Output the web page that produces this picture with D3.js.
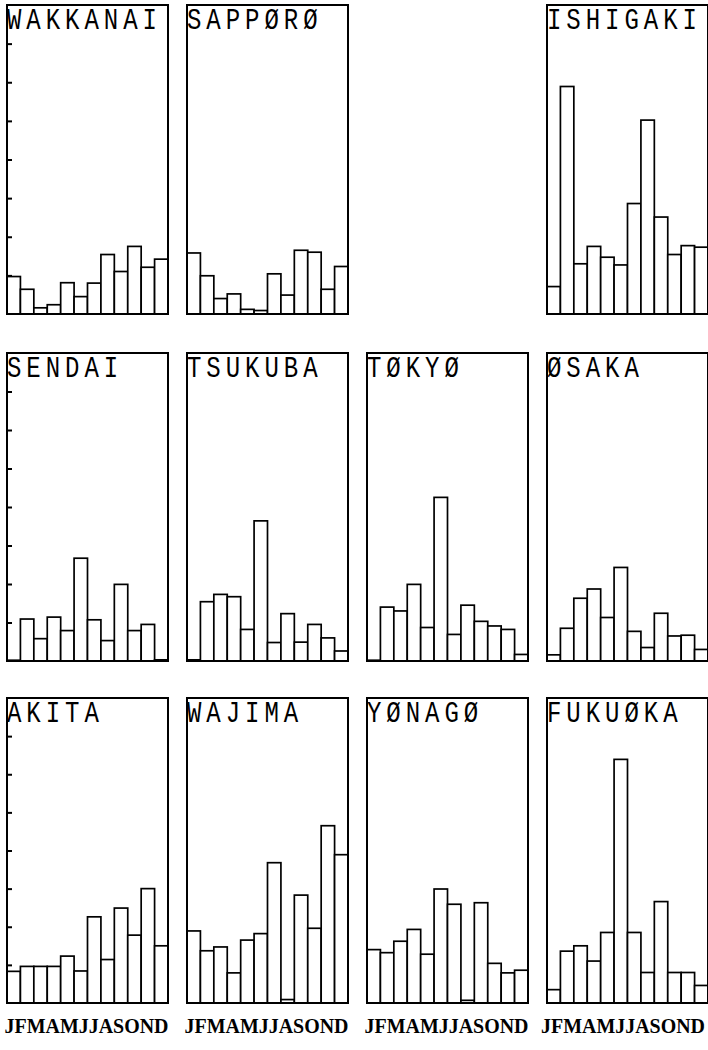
<!DOCTYPE html>
<html>
<head lang="en">
    <meta charset="UTF-8">
    <title></title>
    <script src="https://cdn.jsdelivr.net/npm/d3@7/dist/d3.min.js"></script>
    <style>
        body{margin:0;background:#fff;}
    </style>
</head>
<body>
<div id="tu1"></div>
<script>

    var months=['J','F','M','A','M','J','J','A','S','O','N','D'];
    var monthLabel='JFMAMJJASOND';
    var stationNames=['WAKKANAI','SAPPØRØ','ISHIGAKI',
                      'SENDAI','TSUKUBA','TØKYØ','ØSAKA',
                      'AKITA','WAJIMA','YØNAGØ','FUKUØKA'];
    // values, one per month
    var wakkanai=[0.97,0.64,0.16,0.24,0.81,0.45,0.80,1.54,1.10,1.75,1.21,1.42];
    var sapporo =[1.58,0.99,0.40,0.52,0.12,0.09,1.04,0.49,1.65,1.60,0.64,1.23];
    var ishigaki=[0.71,5.89,1.30,1.75,1.47,1.27,2.86,5.02,2.51,1.54,1.77,1.73];
    var sendai  =[0.02,1.09,0.58,1.14,0.79,2.67,1.07,0.53,1.99,0.79,0.95,0.03];
    var tsukuba =[0.03,1.54,1.73,1.67,0.82,3.64,0.48,1.23,0.49,0.95,0.60,0.26];
    var tokyo   =[0.02,1.40,1.30,1.99,0.87,4.25,0.69,1.45,1.03,0.91,0.82,0.17];
    var osaka   =[0.16,0.85,1.63,1.87,1.13,2.43,0.77,0.35,1.24,0.65,0.67,0.30];
    var akita   =[0.83,0.96,0.96,0.96,1.23,0.84,2.26,1.14,2.49,1.78,3.00,1.50];
    var wajima  =[1.89,1.37,1.47,0.79,1.65,1.82,3.68,0.09,2.83,1.96,4.65,3.89];
    var yonago  =[1.40,1.32,1.62,1.93,1.28,2.99,2.59,0.07,2.63,1.04,0.79,0.86];
    var fukuoka =[0.35,1.36,1.50,1.10,1.85,6.39,1.85,0.80,2.66,0.80,0.80,0.46];
    var stationValues=[wakkanai,sapporo,ishigaki,sendai,tsukuba,tokyo,osaka,
                       akita,wajima,yonago,fukuoka];
    var yTicks=[1,2,3,4,5,6,7];

    // layout
    var cells=[[0,0],[0,1],[0,3],[1,0],[1,1],[1,2],[1,3],[2,0],[2,1],[2,2],[2,3]];
    var colX=[7,187,367,547];
    var panelW=161;
    var rowY=[[5,314],[353,661],[698,1003]];

    var _svg=d3.select('#tu1')
            .append('svg')
            .attr('width',708)
            .attr('height',1050);

    function drawPanel(k){
        var r=cells[k][0], c=cells[k][1];
        var x0=colX[c], top=rowY[r][0], bottom=rowY[r][1];
        var _x=d3.scaleBand()
                .domain(d3.range(12))
                .range([x0,x0+panelW])
                .padding(0);
        var _y=d3.scaleLinear()
                .domain([0,8])
                .range([bottom,top]);
        var g=_svg.append('g');
        g.selectAll('rect.bar')
                .data(stationValues[k])
                .enter()
                .append('rect')
                .attr('class','bar')
                .attr('x',function(d,i){ return _x(i) })
                .attr('y',function(d){ return _y(d) })
                .attr('width',_x.bandwidth())
                .attr('height',function(d){ return _y(0)-_y(d) })
                .style('fill','white')
                .style('stroke','#000')
                .style('stroke-width',1.7);
        if(c===0){
            var ax=g.append('g')
                    .attr('transform','translate('+x0+',0)')
                    .call(d3.axisRight(_y).tickValues(yTicks).tickSize(5).tickFormat(''));
            ax.select('.domain').remove();
            ax.selectAll('line').style('stroke','#000').style('stroke-width',2);
        }
        g.append('rect')
                .attr('x',x0)
                .attr('y',top)
                .attr('width',panelW)
                .attr('height',bottom-top)
                .style('fill','none')
                .style('stroke','#000')
                .style('stroke-width',2);
        g.append('text')
                .attr('transform','translate('+(x0)+','+(top+23.5)+') scale(0.8,1)')
                .text(stationNames[k])
                .style('font-family','"Liberation Mono", monospace')
                .style('font-size','30px')
                .style('letter-spacing','6.2px')
                .style('fill','#000');
        if(r===2){
            var lx=Math.min(x0+panelW/2-83,705-164);
            g.append('text')
                    .attr('x',lx)
                    .attr('y',1033)
                    .attr('textLength',164)
                    .attr('lengthAdjust','spacingAndGlyphs')
                    .text(monthLabel)
                    .style('font-family','"Liberation Serif", serif')
                    .style('font-weight','bold')
                    .style('font-size','20px')
                    .style('fill','#000');
        }
    }
    for(var k=0;k<stationNames.length;k++){
        drawPanel(k);
    }
</script>
</body>
</html>
